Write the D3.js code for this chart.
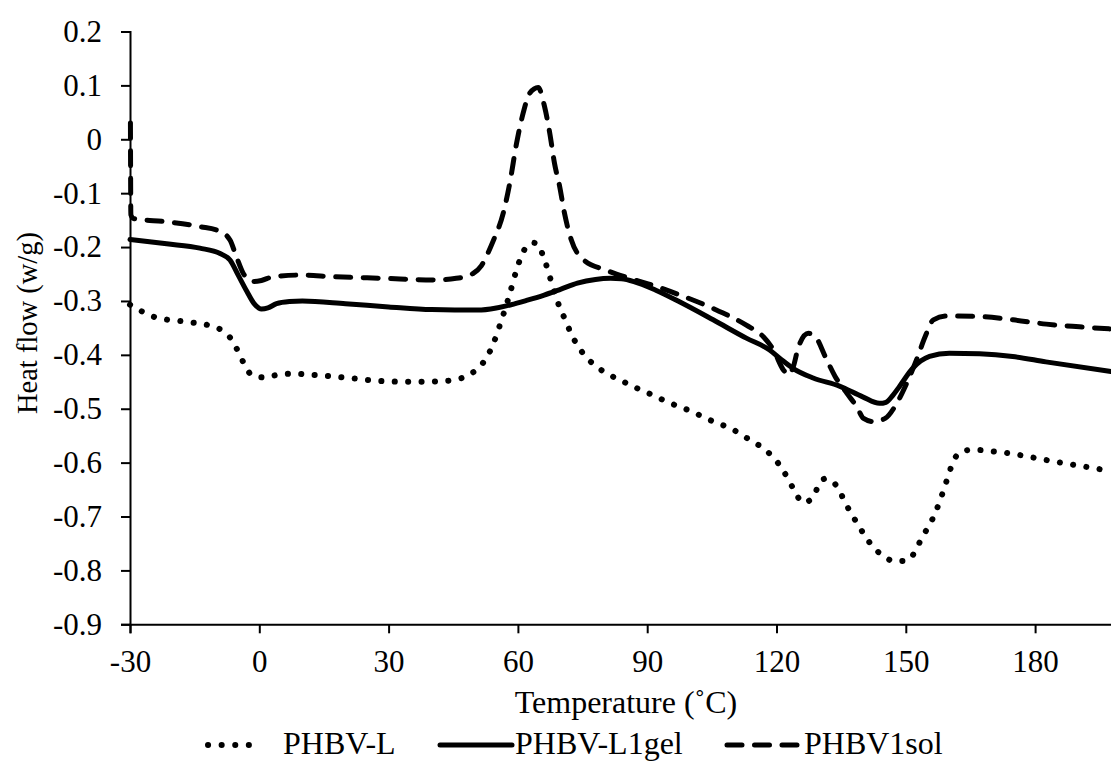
<!DOCTYPE html>
<html>
<head>
<meta charset="utf-8">
<script src="https://cdn.jsdelivr.net/npm/d3@7/dist/d3.min.js"></script>
<style>
  html, body { margin: 0; padding: 0; background: #fff; }
  svg { display: block; }
  text { font-family: "Liberation Serif", "Times New Roman", serif; fill: #000; }
</style>
</head>
<body>
<svg id="chart" width="1111" height="762"></svg>
<script>
// ---- Data ----
const xTicks = [-30, 0, 30, 60, 90, 120, 150, 180];
const yTicks = [0.2, 0.1, 0, -0.1, -0.2, -0.3, -0.4, -0.5, -0.6, -0.7, -0.8, -0.9];
const seriesNames = ["PHBV-L", "PHBV-L1gel", "PHBV1sol"];

const tempL = [-30,-23.8,-17.6,-11.4,-8.6,-6.4,-4.9,-3.5,-1.8,1.2,4.3,7.4,13.5,19.7,27,35,42,47,50,52.5,54,55.1,56.1,58.0,59.7,60.7,62.2,63.5,64.7,65.9,66.9,67.8,69.7,71.1,72.3,73.8,75.6,77.8,80.5,83.2,86.1,88.7,91.7,94.5,97.4,100.3,103.2,106,109,111.7,114.2,116.9,119.3,121.2,122.8,124.3,126.1,128.4,129.7,131.2,132.8,134.4,135.8,137.3,139.0,140.6,142.5,144.7,147.5,150.5,152.4,153.8,155.4,156.8,157.9,158.9,159.9,160.9,162.6,165.7,168.8,175,181.1,187.3,193.5,197.6];
const flowL = [-0.307,-0.331,-0.338,-0.346,-0.355,-0.372,-0.394,-0.417,-0.437,-0.442,-0.437,-0.435,-0.438,-0.442,-0.448,-0.450,-0.449,-0.443,-0.430,-0.408,-0.385,-0.362,-0.338,-0.290,-0.242,-0.219,-0.197,-0.192,-0.195,-0.218,-0.241,-0.266,-0.312,-0.337,-0.360,-0.382,-0.402,-0.419,-0.434,-0.445,-0.456,-0.466,-0.476,-0.487,-0.496,-0.505,-0.516,-0.526,-0.535,-0.547,-0.560,-0.573,-0.591,-0.610,-0.632,-0.654,-0.674,-0.666,-0.643,-0.630,-0.634,-0.649,-0.672,-0.694,-0.716,-0.737,-0.757,-0.773,-0.783,-0.781,-0.761,-0.738,-0.717,-0.694,-0.671,-0.648,-0.623,-0.600,-0.581,-0.576,-0.578,-0.584,-0.593,-0.602,-0.610,-0.616];

const tempGel = [-30,-21.5,-13.8,-9.1,-6.8,-4.9,-2.9,-1.2,0.5,2,4,7,10,20,30,40,50.7,55,58.4,62,66.1,70,73.8,78,81.5,84,86.9,92,97.6,105.3,113,118.4,121,123.8,128.5,134.6,140,143.9,145.4,147,148.5,151.6,155.5,160.1,167.1,174.8,182.5,197.6];
const flowGel = [-0.186,-0.194,-0.202,-0.212,-0.224,-0.252,-0.282,-0.305,-0.315,-0.313,-0.305,-0.301,-0.300,-0.305,-0.311,-0.316,-0.317,-0.313,-0.307,-0.299,-0.289,-0.278,-0.267,-0.260,-0.258,-0.259,-0.264,-0.280,-0.302,-0.335,-0.369,-0.391,-0.408,-0.425,-0.443,-0.458,-0.478,-0.490,-0.488,-0.475,-0.459,-0.425,-0.403,-0.397,-0.398,-0.403,-0.413,-0.431];

const tempSol = [-29.9,-29.8,-29.2,-21.5,-13.8,-9.1,-6.8,-5.3,-3.7,-1.4,0.5,3.2,9.4,17.1,28.8,40.3,45.7,49.6,51.5,53,54.2,56.6,58.1,59.7,61.2,62.7,64.7,66.2,67.4,68.5,69.7,70.8,72.4,75,80.5,85.9,92.1,97.6,105.3,113,116.9,119.3,121.6,122.8,123.9,125.1,127.4,129,131.3,133.6,136.3,138.6,140.2,142.5,145.2,147.9,150.2,152.5,154.5,156.4,159.5,167.2,174.9,182.6,190.3,197.6];
const flowSol = [0.03,-0.14,-0.147,-0.153,-0.162,-0.171,-0.187,-0.218,-0.249,-0.264,-0.262,-0.255,-0.252,-0.255,-0.258,-0.261,-0.258,-0.249,-0.235,-0.212,-0.190,-0.137,-0.082,-0.007,0.048,0.085,0.096,0.060,0.011,-0.045,-0.088,-0.137,-0.187,-0.222,-0.243,-0.258,-0.273,-0.289,-0.314,-0.345,-0.366,-0.391,-0.428,-0.437,-0.422,-0.385,-0.360,-0.366,-0.403,-0.440,-0.471,-0.496,-0.518,-0.524,-0.518,-0.490,-0.453,-0.409,-0.366,-0.335,-0.328,-0.329,-0.335,-0.343,-0.348,-0.352];

// ---- Drawing ----
const svg = d3.select("#chart");
const x = d3.scaleLinear().domain([-30, 200]).range([130, 1121.3]);
const y = d3.scaleLinear().domain([-0.9, 0.2]).range([624.3, 31.5]);

const styles = [
  { dash: "0.1 13.3", width: 6 },
  { dash: null, width: 5 },
  { dash: "15 12.5", width: 5 }
];

const series = [
  tempL.map((t, i) => [t, flowL[i]]),
  tempGel.map((t, i) => [t, flowGel[i]]),
  tempSol.map((t, i) => [t, flowSol[i]])
];

const line = d3.line().x(d => x(d[0])).y(d => y(d[1])).curve(d3.curveMonotoneX);

series.forEach((s, i) => {
  svg.append("path")
    .datum(s)
    .attr("d", line)
    .attr("fill", "none")
    .attr("stroke", "#000")
    .attr("stroke-width", styles[i].width)
    .attr("stroke-linecap", "round")
    .attr("stroke-linejoin", "round")
    .attr("stroke-dasharray", styles[i].dash);
});

// axes (hyphen-minus, as in the reference)
const fmtY = d => d === 0 ? "0" : d3.format(".1f")(d).replace("\u2212", "-");
const fmtX = d => String(d);
const yAxis = svg.append("g").attr("transform", "translate(130,0)")
  .call(d3.axisLeft(y).tickValues(yTicks).tickFormat(fmtY).tickSize(9).tickPadding(19));
const xAxis = svg.append("g").attr("transform", "translate(0,624.3)")
  .call(d3.axisBottom(x).tickValues(xTicks).tickFormat(fmtX).tickSize(9).tickPadding(17));

[yAxis, xAxis].forEach(g => {
  g.select(".domain").attr("stroke", "#000").attr("stroke-width", 2);
  g.selectAll(".tick line").attr("stroke", "#000").attr("stroke-width", 2);
  g.selectAll(".tick text").attr("font-size", 31).attr("font-family", "Liberation Serif").attr("fill", "#000");
});

// axis titles
svg.append("text")
  .attr("x", 626).attr("y", 713)
  .attr("text-anchor", "middle")
  .attr("font-size", 32)
  .text("Temperature (˚C)");

svg.append("text")
  .attr("transform", "translate(37,323) rotate(-90)")
  .attr("text-anchor", "middle")
  .attr("font-size", 28.5)
  .text("Heat flow (w/g)");

// legend
const legendY = 745;
const legendItems = [
  { x1: 208, x2: 262, tx: 283 },
  { x1: 440, x2: 512, tx: 515 },
  { x1: 727, x2: 800, tx: 804 }
];
legendItems.forEach((it, i) => {
  svg.append("line")
    .attr("x1", it.x1).attr("x2", it.x2)
    .attr("y1", legendY).attr("y2", legendY)
    .attr("stroke", "#000")
    .attr("stroke-width", styles[i].width)
    .attr("stroke-linecap", "round")
    .attr("stroke-dasharray", i === 0 ? "0.1 13.5" : styles[i].dash);
  svg.append("text")
    .attr("x", it.tx).attr("y", 754)
    .attr("font-size", 32)
    .text(seriesNames[i]);
});
</script>
</body>
</html>
